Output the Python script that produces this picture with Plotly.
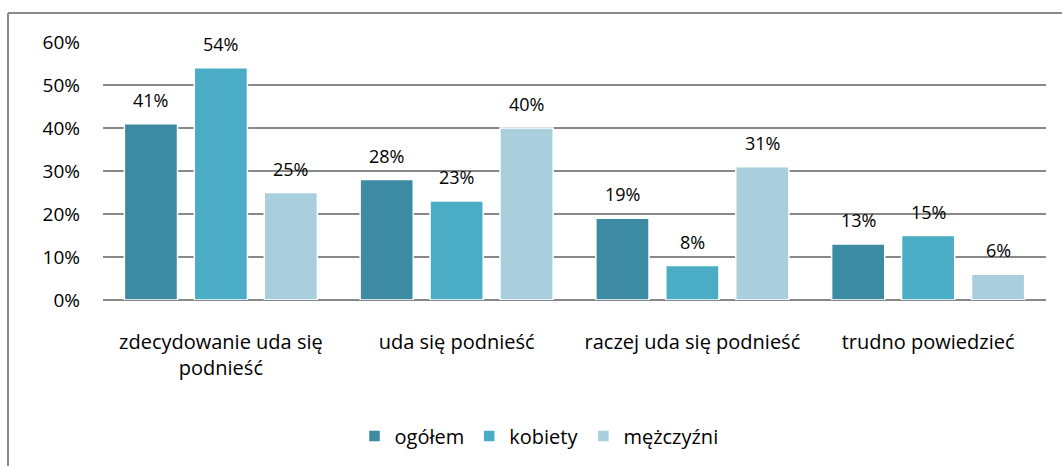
import plotly.graph_objects as go

categories = ["zdecydowanie uda się<br>podnieść", "uda się podnieść",
              "raczej uda się podnieść", "trudno powiedzieć"]
series_names = ["ogółem", "kobiety", "mężczyźni"]
ogolem = [0.41, 0.28, 0.19, 0.13]
kobiety = [0.54, 0.23, 0.08, 0.15]
mezczyzni = [0.25, 0.40, 0.31, 0.06]
colors = ["#3D8BA3", "#4BACC6", "#A9CEDC"]
y_ticks = [0, 0.1, 0.2, 0.3, 0.4, 0.5, 0.6]

FONT = "Open Sans"
W, H = 1062, 466
ML, MR, MT, MB = 103, 16, 42, 166

fig = go.Figure()
for name, vals, col in zip(series_names, [ogolem, kobiety, mezczyzni], colors):
    fig.add_trace(go.Bar(
        x=categories, y=vals, name=name,
        marker=dict(color=col, line=dict(color="white", width=1.5)),
        textposition="none",
    ))

# data labels above bars
slot = 70
for i, vals in enumerate([ogolem, kobiety, mezczyzni]):
    for c, v in zip(categories, vals):
        fig.add_annotation(x=c, y=v, text=f"{v:.0%}", showarrow=False,
                           xshift=(i - 1) * slot, yshift=24,
                           font=dict(family=FONT, size=18, color="#000"))

pw = W - ML - MR
ph = H - MT - MB
def px_x(x): return (x - ML) / pw
def px_y(y): return (H - MB - y) / ph

border = dict(color="#8A8A8A", width=2)
fig.add_shape(type="line", xref="paper", yref="paper",
              x0=px_x(8), x1=px_x(1062), y0=px_y(13), y1=px_y(13), line=border)
fig.add_shape(type="line", xref="paper", yref="paper",
              x0=px_x(8), x1=px_x(8), y0=px_y(13), y1=px_y(466), line=border)

fig.update_layout(
    width=W, height=H, margin=dict(l=ML, r=MR, t=MT, b=MB, autoexpand=False),
    paper_bgcolor="white", plot_bgcolor="white",
    barmode="group", bargap=0.11, bargroupgap=0.24,
    font=dict(family=FONT, size=19, color="#000"),
    showlegend=True,
    legend=dict(orientation="h", x=px_x(539), xanchor="center", y=px_y(436), yanchor="middle",
                font=dict(family=FONT, size=20), tracegroupgap=0),
    xaxis=dict(showgrid=False, showline=False, ticks="", ticklabelstandoff=28,
               tickfont=dict(family=FONT, size=20)),
    yaxis=dict(range=[0, 0.6], tickvals=y_ticks, tickformat=".0%",
               showgrid=True, gridcolor="#888888", gridwidth=2,
               zeroline=True, zerolinecolor="#888888", zerolinewidth=2,
               showline=False, ticks="", ticklabelstandoff=22,
               tickfont=dict(family=FONT, size=19)),
)
fig.write_html("out.html", config={"displayModeBar": False},
               post_script="document.body.style.margin='0';document.body.style.overflow='hidden';")
